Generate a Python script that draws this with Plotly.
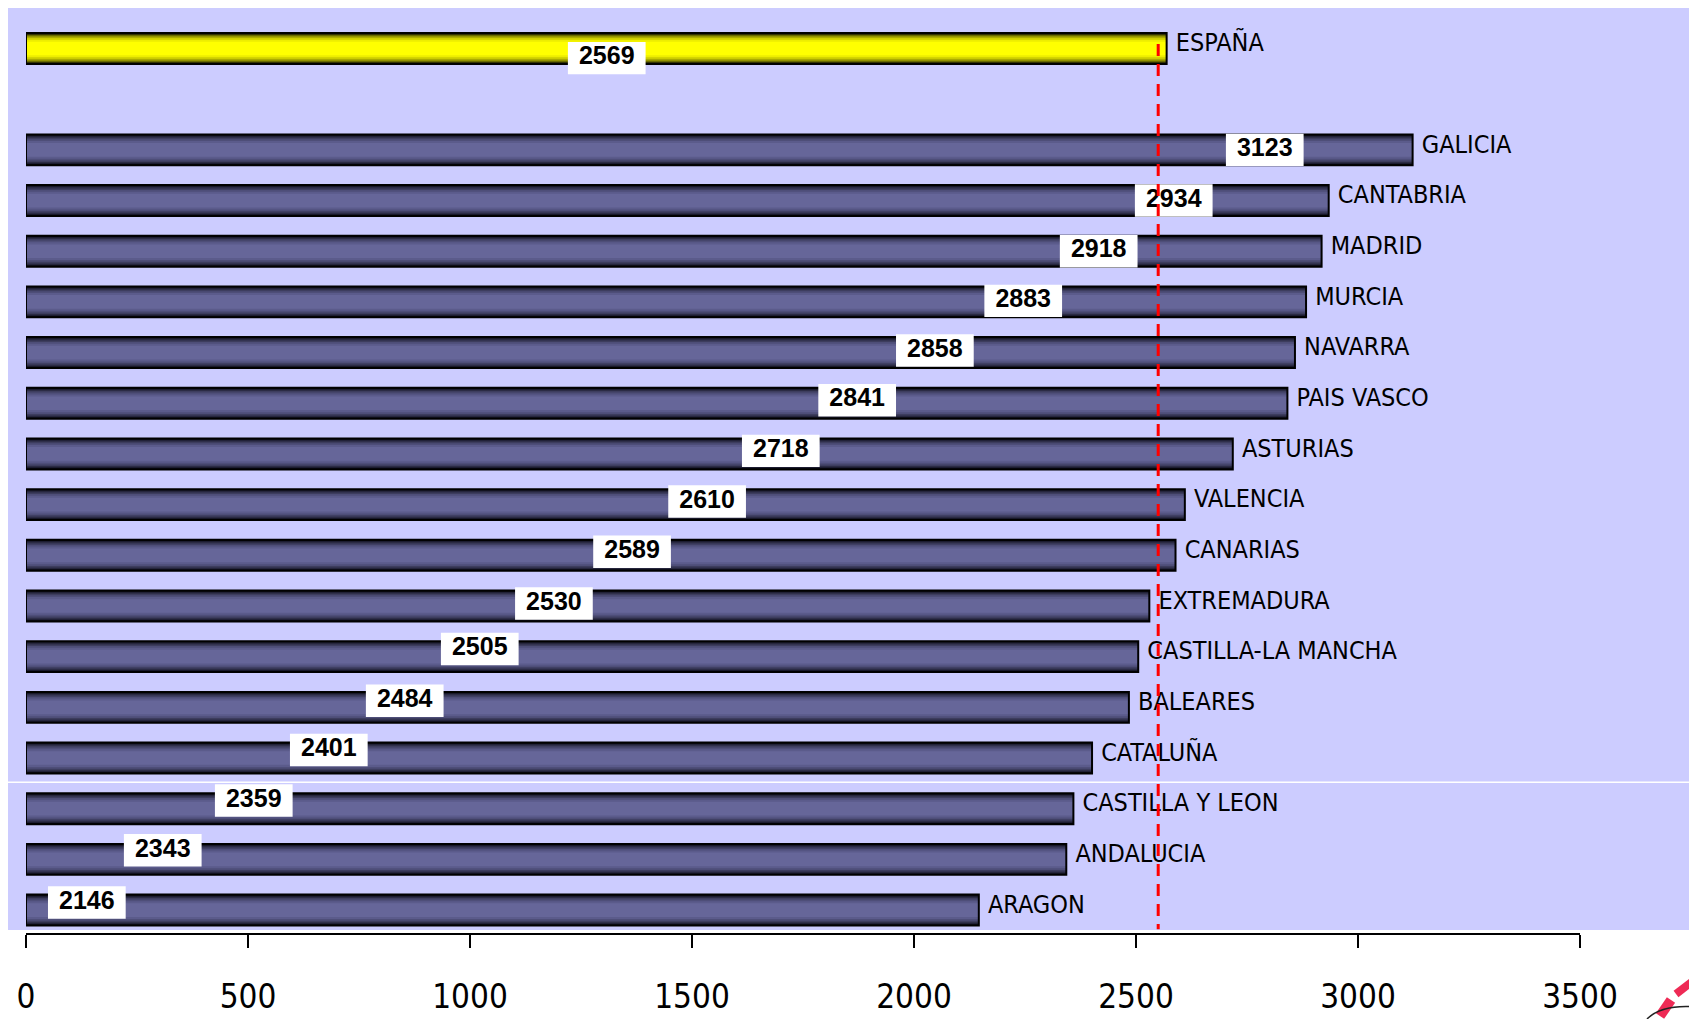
import plotly.graph_objects as go

# ---------------- data ----------------
NATIONAL_LABEL = "ESPAÑA"
NATIONAL_VALUE = 2569

REGIONS = ["GALICIA", "CANTABRIA", "MADRID", "MURCIA", "NAVARRA", "PAIS VASCO",
           "ASTURIAS", "VALENCIA", "CANARIAS", "EXTREMADURA", "CASTILLA-LA MANCHA",
           "BALEARES", "CATALUÑA", "CASTILLA Y LEON", "ANDALUCIA", "ARAGON"]
VALUES = [3123, 2934, 2918, 2883, 2858, 2841, 2718, 2610, 2589, 2530, 2505,
          2484, 2401, 2359, 2343, 2146]

REFERENCE_LINE = 2550          # red dashed reference line
X_TICKS = [0, 500, 1000, 1500, 2000, 2500, 3000, 3500]

# ---------------- label placement (style) ----------------
LABEL_X = [1308, 2790, 2585, 2416, 2246, 2047, 1872, 1700, 1534, 1365, 1189,
           1022, 853, 682, 513, 308, 137]
LABEL_DY = [0.19, 0, 0, 0, -0.02, -0.04, -0.06, -0.06, -0.06, -0.07, -0.05,
            -0.15, -0.13, -0.16, -0.16, -0.18, -0.15]
BOX_W = 175       # label box width in axis units
BOX_H = 0.64      # label box height in category slots
BAR_W = 0.61

# page is rendered with an 8px body margin -> figure coords = page coords - 8
OFF = 8
W, H = 1697 - OFF, 1019 - OFF


def px(v):      # page x pixel -> paper fraction
    return (v - OFF) / W


def py(v):      # page y pixel -> paper fraction
    return 1 - (v - OFF) / H


labels = [NATIONAL_LABEL] + REGIONS
values = [NATIONAL_VALUE] + VALUES
positions = [0] + [i + 2 for i in range(len(REGIONS))]   # one empty slot below ESPAÑA

# gradient layers: (width, navy colour, yellow colour)
LAYERS = [
    (0.61, "#020205", "#050500"),
    (0.575, "#18182a", "#333300"),
    (0.53, "#2b2b44", "#6a6a00"),
    (0.48, "#3d3d5e", "#a0a000"),
    (0.42, "#4e4e78", "#cccc00"),
    (0.35, "#5b5b8b", "#eeee00"),
    (0.27, "#666699", "#ffff00"),
]

fig = go.Figure()
for w, navy, yel in LAYERS:
    fig.add_trace(go.Bar(
        x=values, y=positions, orientation="h", width=w,
        marker=dict(color=[yel] + [navy] * len(REGIONS), line=dict(width=0)),
        hoverinfo="skip", showlegend=False))

# outline
fig.add_trace(go.Bar(
    x=values, y=positions, orientation="h", width=BAR_W,
    marker=dict(color="rgba(0,0,0,0)", line=dict(color="#000000", width=2)),
    hoverinfo="skip", showlegend=False))

# white label boxes
box_y = [p + d for p, d in zip(positions, LABEL_DY)]
fig.add_trace(go.Bar(
    x=[BOX_W] * len(values), base=[lx - BOX_W / 2 for lx in LABEL_X], y=box_y,
    orientation="h", width=BOX_H,
    marker=dict(color="#ffffff", line=dict(width=0)),
    hoverinfo="skip", showlegend=False))

# value labels
fig.add_trace(go.Scatter(
    x=LABEL_X, y=box_y, mode="text", text=[str(v) for v in values],
    textposition="middle center",
    textfont=dict(family="Liberation Sans, Arial, sans-serif", size=25, color="#000000",
                  weight="bold"),
    hoverinfo="skip", showlegend=False))

# region labels
COND = "DejaVu Sans Condensed, Liberation Sans Narrow, Arial Narrow, sans-serif"
fig.add_trace(go.Scatter(
    x=values, y=[p - 0.07 for p in positions], mode="markers+text", text=labels,
    textposition="middle right",
    marker=dict(size=13, color="rgba(0,0,0,0)"),
    textfont=dict(family=COND, size=25, color="#000000"),
    hoverinfo="skip", showlegend=False))

# red dashed reference line
fig.add_trace(go.Scatter(
    x=[REFERENCE_LINE, REFERENCE_LINE], y=[positions[0] - 0.09, positions[-1] + 0.38],
    mode="lines", line=dict(color="#ff0000", width=3, dash="12px,8px"),
    hoverinfo="skip", showlegend=False))

# vertical geometry (page pixels)
y_top_px, y_bot_px = OFF, 933
slot = 50.68
centre0 = 48.5
y_min = (y_top_px - centre0) / slot
y_max = (y_bot_px - centre0) / slot

shapes = [
    # lavender background panel
    dict(type="rect", xref="paper", yref="paper", x0=0, x1=1.01,
         y0=py(930), y1=1, fillcolor="#ccccff", line=dict(width=0), layer="below"),
    # thin white rule across panel
    dict(type="line", xref="paper", yref="paper", x0=0, x1=1.01,
         y0=py(782.3), y1=py(782.3), line=dict(color="#ffffff", width=1.5),
         layer="below"),
    # logo fragment (bottom-right corner)
    dict(type="line", xref="paper", yref="paper", x0=px(1693), y0=py(981),
         x1=px(1676), y1=py(994), line=dict(color="#ee2a55", width=8)),
    dict(type="line", xref="paper", yref="paper", x0=px(1671), y0=py(1000),
         x1=px(1660), y1=py(1016), line=dict(color="#ee2a55", width=10)),
    dict(type="path", xref="paper", yref="paper",
         path=f"M {px(1647)},{py(1019)} Q {px(1662)},{py(1004)} {px(1697)},{py(1007)}",
         line=dict(color="#222222", width=1.5)),
]

fig.update_layout(
    width=W, height=H,
    margin=dict(l=0, r=0, t=0, b=0, autoexpand=False),
    paper_bgcolor="#ffffff", plot_bgcolor="rgba(0,0,0,0)",
    barmode="overlay",
    showlegend=False,
    shapes=shapes,
    xaxis=dict(
        domain=[px(26), px(1580)], range=[0, 3500], automargin=False,
        tickvals=X_TICKS, ticktext=[str(t) for t in X_TICKS],
        showgrid=False, zeroline=False,
        showline=True, linecolor="#000000", linewidth=2,
        ticks="outside", ticklen=13, tickwidth=2, tickcolor="#000000",
        tickfont=dict(family=COND, size=33, color="#000000"),
        ticklabelstandoff=20,
        fixedrange=True,
    ),
    yaxis=dict(
        domain=[py(y_bot_px), 1], range=[y_max, y_min], automargin=False,
        showgrid=False, zeroline=False, showline=False, showticklabels=False,
        ticks="", fixedrange=True,
    ),
)

fig.write_html("out.html", config={"displayModeBar": False})
